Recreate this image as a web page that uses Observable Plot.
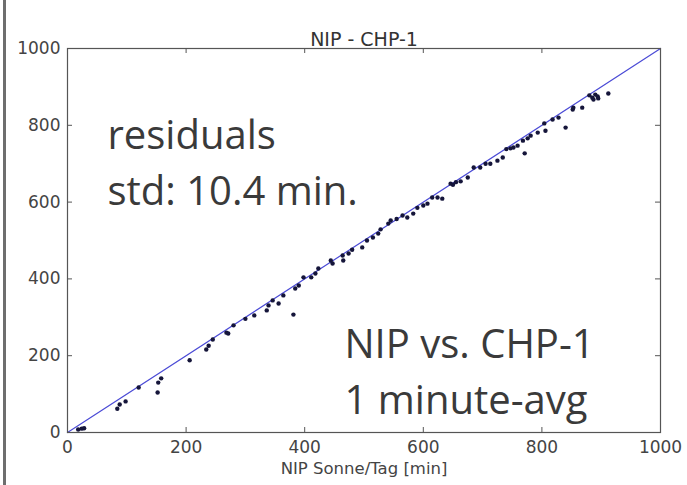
<!DOCTYPE html>
<html>
<head>
<meta charset="utf-8">
<script src="https://cdn.jsdelivr.net/npm/d3@7"></script>
<script src="https://cdn.jsdelivr.net/npm/@observablehq/plot@0.6"></script>
<style>
  html, body { margin: 0; padding: 0; background: #fff; }
  #wrap { position: relative; width: 687px; height: 485px; overflow: hidden; }
  #bar { position: absolute; left: 3px; top: 0; width: 3px; height: 485px; background: #6e6e6e; }
  #chart { position: absolute; left: 0; top: 0; }
</style>
</head>
<body>
<div id="wrap"><div id="bar"></div><div id="chart"></div></div>
<script>
const title = "NIP - CHP-1";
const xLabel = "NIP Sonne/Tag [min]";
const note1 = "residuals\nstd: 10.4 min.";
const note2 = "NIP vs. CHP-1\n1 minute-avg";
const ticks = [0, 200, 400, 600, 800, 1000];
const refLine = [0, 1000];

// NIP minutes (x) and CHP-1 minutes (y)
const nip = [18, 24, 28, 84, 88, 98, 120, 152, 153, 158,
  206, 234, 238, 245, 268, 271, 280, 300, 315, 336, 339, 346, 356, 364, 381, 384, 390, 398, 411, 418,
  423, 444, 447, 464, 465, 474, 480, 497, 505, 515, 524, 528, 541, 545, 555, 565, 573, 583, 590, 600, 607,
  615, 624, 632, 646, 650, 655, 663, 675, 685, 696, 705, 713, 725, 734, 740, 747, 752, 759, 768, 771, 776, 781, 793, 806,
  804, 818, 828, 840, 852, 853, 868, 880, 885, 887, 890, 894, 895, 912];
const chp = [8, 10, 11, 62, 73, 81, 117, 104, 130, 141,
  188, 216, 226, 242, 260, 258, 279, 296, 305, 318, 331, 344, 336, 357, 307, 375, 383, 404, 404, 414,
  427, 448, 440, 461, 448, 466, 476, 482, 500, 508, 518, 529, 544, 552, 556, 565, 560, 570, 585, 591, 596,
  612, 612, 609, 648, 645, 652, 654, 664, 690, 690, 700, 700, 708, 716, 738, 740, 742, 747, 760, 727, 766, 773, 781, 786,
  805, 815, 820, 794, 841, 846, 846, 878, 872, 867, 880, 875, 870, 883];

const pts = nip.map((x, i) => ({x, y: chp[i]}));

const W = 687, H = 485;
const mL = 67, mR = 27, mT = 48, mB = 53;
const fw = W - mL - mR, fh = H - mT - mB;
const tickLen = 5;
const tickColor = "#555";
const fmt = d => String(d);

const chart = Plot.plot({
  width: W, height: H,
  marginLeft: mL, marginRight: mR, marginTop: mT, marginBottom: mB,
  style: {fontFamily: "DejaVu Sans", fontSize: "17px", color: "#444", background: "transparent"},
  x: {domain: [0, 1000]},
  y: {domain: [0, 1000]},
  marks: [
    Plot.line(refLine, {x: d => d, y: d => d, stroke: "#4b4bd6", strokeWidth: 1.2}),
    Plot.dot(pts, {x: "x", y: "y", r: 2.2, fill: "#15153a", stroke: "none"}),
    Plot.frame({stroke: "#555", strokeWidth: 1.2}),
    // inward tick marks on all four sides
    Plot.tickX(ticks, {x: d => d, insetTop: fh - tickLen, stroke: tickColor}),
    Plot.tickX(ticks, {x: d => d, insetBottom: fh - tickLen, stroke: tickColor}),
    Plot.tickY(ticks, {y: d => d, insetRight: fw - tickLen, stroke: tickColor}),
    Plot.tickY(ticks, {y: d => d, insetLeft: fw - tickLen, stroke: tickColor}),
    Plot.axisX(ticks, {tickSize: 0, tickPadding: 8, tickFormat: fmt, label: null, fill: "#444", fontSize: 17}),
    Plot.axisY(ticks, {tickSize: 0, tickPadding: 7, tickFormat: fmt, label: null, fill: "#444", fontSize: 17}),
    Plot.text([title], {frameAnchor: "top", dy: -16, fontSize: 19, fill: "#333", fontFamily: "DejaVu Sans"}),
    Plot.text([xLabel], {frameAnchor: "bottom", dy: 41, fontSize: 16.5, fill: "#444", fontFamily: "DejaVu Sans"}),
    Plot.text([note1], {frameAnchor: "top-left", textAnchor: "start", lineAnchor: "top", dx: 40, dy: 61,
      fontSize: 40, lineHeight: 1.4, fill: "#3a3a3a", fontFamily: "Open Sans"}),
    Plot.text([note2], {frameAnchor: "top-left", textAnchor: "start", lineAnchor: "top", dx: 277, dy: 270,
      fontSize: 40, lineHeight: 1.4, fill: "#3a3a3a", fontFamily: "Open Sans"})
  ]
});
document.getElementById("chart").appendChild(chart);
</script>
</body>
</html>
